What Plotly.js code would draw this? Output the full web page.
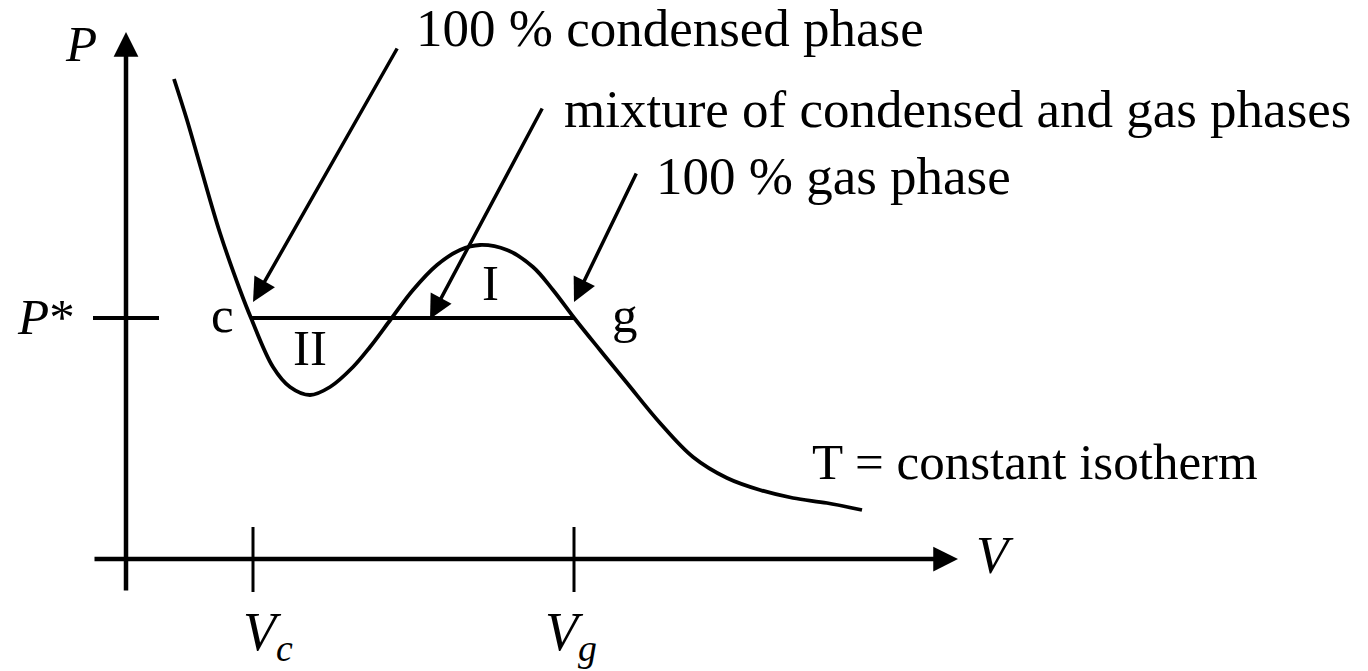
<!DOCTYPE html>
<html>
<head>
<meta charset="utf-8">
<script src="https://cdn.plot.ly/plotly-3.0.1.min.js"></script>
<style>html,body{margin:0;padding:0;background:#fff;}#chart{width:1368px;height:671px;}</style>
</head>
<body>
<div id="chart"></div>
<script>
// Isotherm P(V) (axis units: origin at the axes crossing)
const curveV = [48,61,74,94,114,125,147,164,184,204,227,244,265,287,311,334,354,381,407,427,449,474,501,534,567,601,634,667,701,736];
const curveP = [480,439,394,326,269,241,192,172,164,172,192,212,240,269,294,309,314,309,292,269,240,209,176,136,102,81,69,61,56,49];

// Coexistence pressure and the two volumes
const pStar = 241;
const vC = 127;
const vG = 448;

// Axis extents
const vAxis = [-33, 832];
const pAxis = [-33, 527];

// Text labels
const phaseLabels = ["100 % condensed phase", "mixture of condensed and gas phases", "100 % gas phase"];
const phaseLabelV = [288, 436, 528];
const phaseLabelP = [531, 450, 383];
// Arrow tails and tips (tail -> tip) for the three phase labels
const arrowTailV = [272, 417, 511];
const arrowTailP = [512, 452, 387];
const arrowTipV = [127, 304, 448];
const arrowTipP = [257, 240, 257];

const FONT = "Liberation Serif, Times New Roman, serif";
const BLACK = "#000";

const traces = [
  { x: curveV, y: curveP, type: "scatter", mode: "lines",
    line: { color: BLACK, width: 3.8, shape: "spline", smoothing: 1 }, hoverinfo: "skip" },
  { x: [vC - 2, vG + 1], y: [pStar, pStar], type: "scatter", mode: "lines",
    line: { color: BLACK, width: 4 }, hoverinfo: "skip" },
  { x: [vAxis[0], 33], y: [pStar, pStar], type: "scatter", mode: "lines",
    line: { color: BLACK, width: 4 }, hoverinfo: "skip" },
  { x: [vC, vC], y: [-33, 32], type: "scatter", mode: "lines",
    line: { color: BLACK, width: 3 }, hoverinfo: "skip" },
  { x: [vG, vG], y: [-33, 32], type: "scatter", mode: "lines",
    line: { color: BLACK, width: 3 }, hoverinfo: "skip" }
];

const ann = [];
function txt(t, x, y, xanchor, size) {
  ann.push({ text: t, x: x, y: y, xref: "x", yref: "y", showarrow: false,
    xanchor: xanchor || "center", yanchor: "middle",
    font: { family: FONT, size: size || 51, color: BLACK } });
}
function arrow(tx, ty, hx, hy, w, s) {
  ann.push({ text: "", x: hx, y: hy, ax: tx, ay: ty, xref: "x", yref: "y", axref: "x", ayref: "y",
    showarrow: true, arrowhead: 2, arrowwidth: w, arrowsize: s, arrowcolor: BLACK, standoff: 0, startstandoff: 0 });
}
// axes with arrowheads
arrow(0, pAxis[0], 0, pAxis[1], 4.5, 1.1);
arrow(vAxis[0], 0, vAxis[1], 0, 4.5, 1.1);
// phase arrows
for (let i = 0; i < 3; i++) arrow(arrowTailV[i], arrowTailP[i], arrowTipV[i], arrowTipP[i], 3.5, 1.35);
for (let i = 0; i < 3; i++) txt(phaseLabels[i], phaseLabelV[i], phaseLabelP[i], "left", 53);
txt("T = constant isotherm", 684, 97, "left", 51);
txt("<i>P</i>", -45, 515);
txt("<i>P</i>*", -80, 242);
txt("c", 96, 244);
txt("II", 184, 211);
txt("I", 364, 276);
txt("g", 499, 244);
txt("<i>V</i>", 869, 4, "center", 53);
txt("<i>V<sub>c</sub></i>", 142, -76, "center", 54);
txt("<i>V<sub>g</sub></i>", 445, -76, "center", 54);

const layout = {
  width: 1368, height: 671,
  margin: { l: 0, r: 0, t: 0, b: 0 },
  paper_bgcolor: "#fff", plot_bgcolor: "#fff",
  showlegend: false,
  xaxis: { range: [-126, 1242], visible: false, fixedrange: true },
  yaxis: { range: [-112, 559], visible: false, fixedrange: true },
  annotations: ann
};
Plotly.newPlot("chart", traces, layout, { staticPlot: true, displayModeBar: false });
</script>
</body>
</html>
